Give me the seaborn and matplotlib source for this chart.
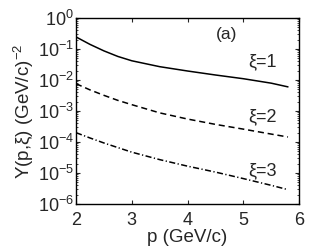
import numpy as np
import pandas as pd
import matplotlib
matplotlib.use("Agg")
import matplotlib.pyplot as plt
import seaborn as sns
from matplotlib.ticker import LogLocator, NullFormatter, FixedLocator

p = [2.0, 2.25, 2.5, 2.75, 3.0, 3.5, 4.0, 4.5, 5.0, 5.5, 5.8]
y_xi1 = [0.245, 0.141, 0.087, 0.0575, 0.0417, 0.0269, 0.0195, 0.0145, 0.011, 0.0079, 0.006]
y_xi2 = [0.0076, 0.0048, 0.0032, 0.0022, 0.0016, 8.7e-4, 5.5e-4, 3.7e-4, 2.6e-4, 1.8e-4, 1.45e-4]
y_xi3 = [2.0e-4, 1.35e-4, 9.3e-5, 6.6e-5, 4.7e-5, 2.7e-5, 1.66e-5, 1.07e-5, 6.6e-6, 4.0e-6, 2.9e-6]
series_names = ["ξ=1", "ξ=2", "ξ=3"]
x_ticks = [2, 3, 4, 5, 6]

df = pd.DataFrame({
    "p": p * 3,
    "Y": y_xi1 + y_xi2 + y_xi3,
    "xi": [series_names[0]] * len(p) + [series_names[1]] * len(p) + [series_names[2]] * len(p),
})

sns.set_theme(style="ticks")
plt.rcParams["font.family"] = ["Liberation Sans", "DejaVu Sans"]
plt.rcParams["mathtext.fontset"] = "custom"
plt.rcParams["mathtext.rm"] = "Liberation Sans"
plt.rcParams["mathtext.it"] = "Liberation Sans:italic"
plt.rcParams["mathtext.bf"] = "Liberation Sans:bold"

fig = plt.figure(figsize=(3.32, 2.5), dpi=100)
ax = fig.add_axes([0.229, 0.184, 0.672, 0.744])

styles = {series_names[0]: "-", series_names[1]: (0, (4, 2.5)), series_names[2]: (0, (4, 1.6, 0.8, 1.6))}
for name in series_names:
    sub = df[df["xi"] == name]
    sns.lineplot(data=sub, x="p", y="Y", ax=ax, color="black", linewidth=1.1,
                 linestyle=styles[name], legend=False)

ax.set_yscale("log")
ax.set_xlim(2, 6)
ax.set_ylim(1e-6, 1)
ax.xaxis.set_major_locator(FixedLocator(x_ticks))
ax.yaxis.set_major_locator(LogLocator(base=10, numticks=10))
ax.yaxis.set_minor_locator(LogLocator(base=10, subs=np.arange(2, 10), numticks=20))
ax.yaxis.set_minor_formatter(NullFormatter())
ax.tick_params(which="both", direction="in", top=True, right=True, labelsize=13)
ax.tick_params(axis="y", pad=1.5)
ax.tick_params(axis="x", pad=6)
ax.tick_params(which="major", length=3, width=0.8)
ax.tick_params(which="minor", length=1.5, width=0.6)
for s in ax.spines.values():
    s.set_linewidth(1.0)
    s.set_color("black")

ax.set_xlabel("p (GeV/c)", fontsize=13.5, labelpad=0)
ax.set_ylabel("Y(p,ξ) (GeV/c)$^{-2}$", fontsize=13.5, labelpad=1)

ax.text(4.7, 0.3, "(a)", fontsize=12.5, ha="center", va="center")
ax.text(5.35, 0.038, series_names[0], fontsize=13, ha="center", va="center")
ax.text(5.35, 6.6e-4, series_names[1], fontsize=13, ha="center", va="center")
ax.text(5.35, 1.2e-5, series_names[2], fontsize=13, ha="center", va="center")

fig.savefig("out.png", dpi=100)
